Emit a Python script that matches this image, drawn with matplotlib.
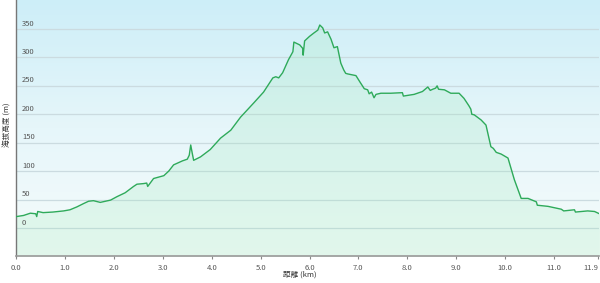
import numpy as np
import matplotlib
matplotlib.use("Agg")
import matplotlib.pyplot as plt
from matplotlib.colors import LinearSegmentedColormap

plt.rcParams['font.family'] = ['Noto Sans CJK JP', 'DejaVu Sans']

# distance (km) / elevation (m)
dist = [0.0, 0.15, 0.29, 0.40, 0.42, 0.44, 0.55, 0.75, 0.97, 1.1, 1.24, 1.38, 1.48, 1.58,
        1.72, 1.93, 2.06, 2.23, 2.4, 2.47, 2.6, 2.67, 2.69, 2.81, 3.02, 3.12, 3.22, 3.4,
        3.5, 3.54, 3.57, 3.6, 3.63, 3.77, 3.97, 4.18, 4.39, 4.59, 4.72, 4.86, 5.06, 5.25,
        5.31, 5.37, 5.45, 5.57, 5.66, 5.68, 5.8, 5.86, 5.87, 5.9, 6.0, 6.09, 6.17, 6.21,
        6.27, 6.31, 6.37, 6.44, 6.5, 6.57, 6.64, 6.7, 6.74, 6.78, 6.95, 7.03, 7.12, 7.19,
        7.22, 7.27, 7.32, 7.36, 7.46, 7.66, 7.9, 7.92, 8.14, 8.31, 8.42, 8.47, 8.52, 8.58,
        8.61, 8.64, 8.76, 8.89, 9.06, 9.16, 9.26, 9.3, 9.32, 9.37, 9.51, 9.61, 9.71, 9.76,
        9.82, 9.92, 10.06, 10.19, 10.33, 10.47, 10.64, 10.66, 10.88, 11.15, 11.2, 11.42,
        11.44, 11.69, 11.83, 11.93]
elev = [20, 22, 26, 25, 20, 29, 27, 28, 30, 32, 37, 43, 47, 48,
        45, 49, 55, 62, 73, 77, 78, 79, 73, 87, 92, 100, 111, 118,
        121, 128, 146, 132, 119, 125, 138, 158, 172, 195, 207, 220, 239, 264,
        266, 264, 273, 296, 310, 327, 322, 316, 304, 329, 337, 343, 348, 357,
        352, 343, 345, 332, 317, 319, 290, 278, 272, 271, 268, 257, 245, 243,
        236, 239, 229, 235, 237, 237, 238, 232, 235, 240, 248, 242, 244, 246,
        250, 244, 243, 237, 237, 228, 215, 209, 200, 199, 190, 181, 143, 140,
        133, 130, 123, 85, 52, 52, 46, 40, 38, 33, 30, 32, 28, 30, 29, 25]

xticks = [0, 1, 2, 3, 4, 5, 6, 7, 8, 9, 10, 11, 11.9]
xtick_labels = ['0.0', '1.0', '2.0', '3.0', '4.0', '5.0', '6.0', '7.0', '8.0', '9.0', '10.0', '11.0', '11.9']
yticks = [0, 50, 100, 150, 200, 250, 300, 350]

fig = plt.figure(figsize=(6, 2.83), dpi=100)
ax = fig.add_axes([0.027, 0.094, 0.972, 0.906])
ax.set_xlim(0, 11.93)
ax.set_ylim(-50, 401)

# background gradient: light cyan at top, almost white at bottom
bg = LinearSegmentedColormap.from_list('bg', ['#f6fcfb', '#e6f6fa', '#cdeef8'])
grad = np.linspace(0, 1, 256).reshape(-1, 1)
ax.imshow(grad, cmap=bg, aspect='auto', origin='lower',
          extent=[0, 11.93, -50, 401], zorder=0)

for v in yticks:
    ax.axhline(v, color='#cbdbe0', lw=0.9, zorder=1)
    ax.text(0.12, v + 6, str(v), fontsize=5.5, color='#555555', zorder=4)

ax.fill_between(dist, elev, -50, color='#9be8b8', alpha=0.22, lw=0, zorder=2)
ax.plot(dist, elev, color='#2eaa5a', lw=1.0, zorder=3)

ax.set_yticks([])
ax.set_xticks(xticks)
ax.set_xticklabels(xtick_labels, fontsize=5.5, color='#555555')
ax.get_xticklabels()[-1].set_horizontalalignment('right')
ax.tick_params(axis='x', length=2.5, width=0.8, color='#888888', pad=3)

for s in ['top', 'right']:
    ax.spines[s].set_visible(False)
ax.spines['left'].set_color('#777777')
ax.spines['bottom'].set_color('#999999')
ax.spines['left'].set_linewidth(1.0)
ax.spines['bottom'].set_linewidth(1.2)

fig.text(0.5, 0.03, '距離 (km)', fontsize=5.5, ha='center', va='center', color='#333333')
fig.text(0.013, 0.56, '海拔高度 (m)', fontsize=5.5, rotation=90, ha='center', va='center', color='#333333')

fig.savefig('out.png', dpi=100)
